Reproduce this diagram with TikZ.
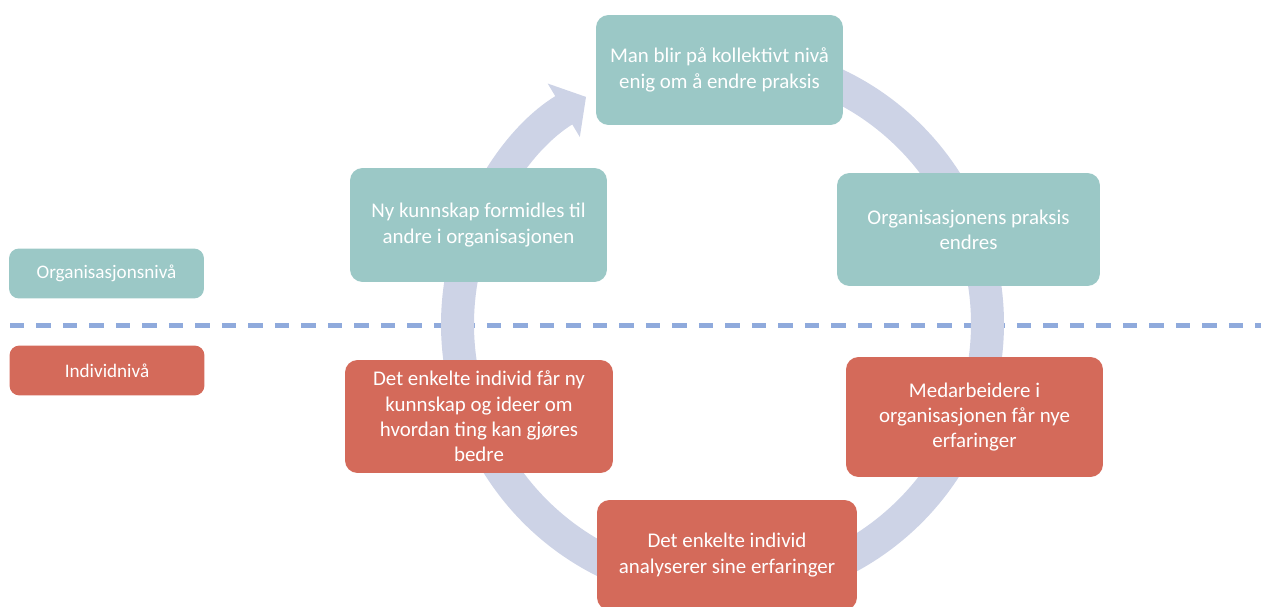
\documentclass[tikz,border=0pt]{standalone}
\usepackage{fontspec}
\setmainfont{Carlito}
\usetikzlibrary{arrows.meta}

\definecolor{orgteal}{RGB}{155,200,198}
\definecolor{indred}{RGB}{212,106,90}
\definecolor{ringblue}{RGB}{205,211,230}
\definecolor{skille}{RGB}{143,170,220}

\begin{document}
\begin{tikzpicture}[x=0.02cm,y=-0.02cm,
   steg/.style={rectangle,rounded corners=0.25cm,minimum width=5.2cm,minimum height=2.26cm,
      align=center,text=white,font=\fontsize{11.9}{14.4}\selectfont},
   org/.style={steg,fill=orgteal},
   ind/.style={steg,fill=indred},
   niva/.style={rectangle,rounded corners=0.2cm,minimum width=3.9cm,minimum height=1cm,
      text=white,font=\fontsize{10.9}{13}\selectfont}]
   \useasboundingbox (0,0) rectangle (1261,607);
   \coordinate (sentrum) at (722.5,324);
   % skillelinje mellom nivaene
   \draw[skille,line width=0.1cm,dash pattern=on 0.29cm off 0.24cm] (10,326) -- (1261,326);
   % ringen bak boksene
   \draw[ringblue,line width=0.66cm,-{Triangle[width=1.22cm,length=0.52cm]}]
      (sentrum) ++(80:5.3cm) arc[start angle=80,end angle=-239,radius=5.3cm];

   \node[niva,fill=orgteal] (orgniva) at (106.5,273.5) {Organisasjonsnivå};
   \node[niva,fill=indred] (indniva) at (107,370.5) {Individnivå};

   \node[org,minimum width=4.94cm,minimum height=2.2cm] (enig) at (719.5,70)
      {Man blir på kollektivt nivå\\enig om å endre praksis};
   \node[org,minimum width=5.26cm] (praksis) at (968.5,229.5)
      {Organisasjonens praksis\\endres};
   \node[ind,minimum width=5.14cm,minimum height=2.4cm] (erfaring) at (974.5,417)
      {Medarbeidere i\\organisasjonen får nye\\erfaringer};
   \node[ind,minimum height=2.2cm] (analyse) at (727,555)
      {Det enkelte individ\\analyserer sine erfaringer};
   \node[ind,minimum width=5.36cm] (kunnskap) at (479,416.5)
      {Det enkelte individ får ny\\kunnskap og ideer om\\hvordan ting kan gjøres\\bedre};
   \node[org,minimum width=5.14cm,minimum height=2.28cm] (formidle) at (478.5,225)
      {Ny kunnskap formidles til\\andre i organisasjonen};
\end{tikzpicture}
\end{document}
